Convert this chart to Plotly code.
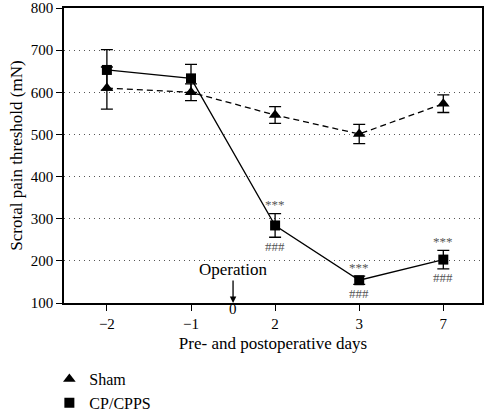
import plotly.graph_objects as go

day_labels = ["−2", "−1", "2", "3", "7"]
sham_vals = [610, 600, 546, 501, 573]
sham_err = [50, 20, 20, 23, 21]
cp_vals = [653, 633, 284, 154, 203]
cp_err = [48, 33, 28, 10, 22]
sig_top = ["", "", "***", "***", "***"]
sig_bot = ["", "", "###", "###", "###"]

xpos = list(range(len(day_labels)))
FONT = "Liberation Serif"

fig = go.Figure()
fig.add_trace(go.Scatter(
    x=xpos, y=sham_vals, name="Sham", mode="lines+markers", showlegend=False,
    line=dict(color="black", width=1.3, dash="6px,4px"),
    marker=dict(symbol="triangle-up", size=11, color="black"),
    error_y=dict(type="data", array=sham_err, color="black", thickness=1.3, width=6),
))
fig.add_trace(go.Scatter(
    x=xpos, y=cp_vals, name="CP/CPPS", mode="lines+markers", showlegend=False,
    line=dict(color="black", width=1.3),
    marker=dict(symbol="square", size=10, color="black"),
    error_y=dict(type="data", array=cp_err, color="black", thickness=1.3, width=6),
))
# legend-only entries (marker with error bar, no line)
fig.add_trace(go.Scatter(
    x=[None], y=[None], name="Sham", mode="markers", legendgroup="a",
    marker=dict(symbol="triangle-up", size=11, color="black"),
    error_y=dict(type="data", array=[1], color="black", thickness=1.3, width=5),
))
fig.add_trace(go.Scatter(
    x=[None], y=[None], name="CP/CPPS", mode="markers", legendgroup="b",
    marker=dict(symbol="square", size=10, color="black"),
    error_y=dict(type="data", array=[1], color="black", thickness=1.3, width=5),
))

for i in range(len(xpos)):
    if sig_top[i]:
        fig.add_annotation(x=xpos[i], y=cp_vals[i] + cp_err[i], text=sig_top[i],
                           showarrow=False, yshift=9, font=dict(family=FONT, size=13, color="#555555"))
        fig.add_annotation(x=xpos[i], y=cp_vals[i] - cp_err[i], text=sig_bot[i],
                           showarrow=False, yshift=-9, font=dict(family=FONT, size=13, color="#555555"))

# Operation marker at day 0 (between -1 and 2)
fig.add_annotation(x=1.5, y=100, ax=0, ay=-24, axref="pixel", ayref="pixel",
                   showarrow=True, arrowhead=2, arrowsize=1, arrowwidth=1.3, arrowcolor="black",
                   text="", standoff=0)
fig.add_annotation(x=1.5, y=100, text="Operation", showarrow=False, yshift=34,
                   font=dict(family=FONT, size=17, color="black"))
fig.add_annotation(x=1.5, y=0, xref="x", yref="paper", text="0", showarrow=False,
                   yshift=-16, font=dict(family=FONT, size=15, color="black"))

fig.update_layout(
    width=484, height=411,
    margin=dict(l=64, r=2, t=8, b=108, autoexpand=False),
    plot_bgcolor="white", paper_bgcolor="white",
    font=dict(family=FONT, size=15, color="black"),
    showlegend=True,
    legend=dict(x=-0.035, y=-0.2, xanchor="left", yanchor="top", tracegroupgap=0,
                font=dict(family=FONT, size=16), bgcolor="rgba(0,0,0,0)",
                itemwidth=30),
)
fig.update_xaxes(
    range=[-0.51, 4.46], tickvals=xpos, ticktext=day_labels, automargin=False,
    showline=True, linecolor="black", linewidth=1.5, mirror=True,
    ticks="outside", ticklen=6, tickcolor="black", showgrid=False, zeroline=False,
    title=dict(text="Pre- and postoperative days", font=dict(size=17), standoff=6),
    tickfont=dict(size=15),
)
fig.update_yaxes(
    range=[100, 800], dtick=100, automargin=False, ticklabeloverflow="allow",
    showline=True, linecolor="black", linewidth=1.5, mirror=True,
    ticks="outside", ticklen=6, tickcolor="black",
    showgrid=True, gridcolor="#555555", griddash="1px,4px", gridwidth=1, zeroline=False,
    title=dict(text="Scrotal pain threshold (mN)", font=dict(size=17), standoff=4),
    tickfont=dict(size=15),
)

fig.write_html("out.html", config={"displayModeBar": False},
               post_script="document.body.style.margin='0px';")
